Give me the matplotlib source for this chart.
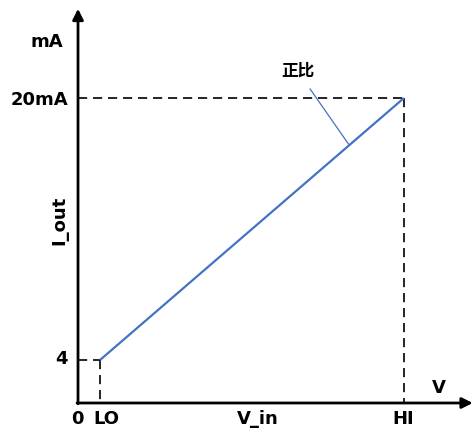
import matplotlib
matplotlib.use("Agg")
import matplotlib.pyplot as plt
import numpy as np

# ---- data (schematic) ----
v_points = [6.75, 100.0]      # LO, HI positions on the V_in axis
i_points = [4.0, 20.0]        # output current (mA)
x_tick_labels = ["0", "LO", "V_in", "HI"]
y_tick_labels = ["4", "20mA"]
annotation_text = "正比"

plt.rcParams['font.family'] = ['DejaVu Sans']

fig = plt.figure(figsize=(4.73, 4.29), dpi=100)
ax = fig.add_axes([0, 0, 1, 1])
ax.set_xlim(-23.93, 121.17)
ax.set_ylim(-0.214, 25.985)
ax.axis('off')

x0 = 0.0
y0 = 1.374
v_lo, v_hi = v_points
i_lo, i_hi = i_points

# axes arrows
arrow_kw = dict(arrowstyle='-|>', lw=2.0, color='black', mutation_scale=16,
                shrinkA=0, shrinkB=0)
ax.annotate('', xy=(x0, 25.45), xytext=(x0, y0 - 0.05), arrowprops=arrow_kw)
ax.annotate('', xy=(121.1, y0), xytext=(x0 - 0.3, y0), arrowprops=arrow_kw)

# dashed guides
dash_kw = dict(color='black', lw=1.2, linestyle=(0, (5.5, 3.5)))
ax.plot([x0, v_hi], [i_hi, i_hi], **dash_kw)
ax.plot([v_hi, v_hi], [i_hi, y0], **dash_kw)
ax.plot([x0, v_lo], [i_lo, i_lo], **dash_kw)
ax.plot([v_lo, v_lo], [i_lo, y0], **dash_kw)

# proportional line
blue = '#4472C4'
ax.plot(v_points, i_points, color=blue, lw=1.6, solid_capstyle='butt')

# leader line to annotation
t = 0.82
px = v_lo + t * (v_hi - v_lo)
py = i_lo + t * (i_hi - i_lo)
ax.plot([71.2, px], [20.55, py], color=blue, lw=0.9)
ax.text(67.5, 21.7, annotation_text, fontsize=12, fontweight='bold',
        family=['Noto Sans CJK SC', 'DejaVu Sans'], ha='center', va='center')

# labels
fs = 13
yb = 0.397
ax.text(-4.6, 23.45, "mA", fontsize=fs, fontweight='bold', ha='right', va='center')
ax.text(-3.07, i_hi - 0.15, y_tick_labels[1], fontsize=fs, fontweight='bold', ha='right', va='center')
ax.text(-3.07, i_lo + 0.05, y_tick_labels[0], fontsize=fs, fontweight='bold', ha='right', va='center')
ax.text(x0 - 0.3, yb, x_tick_labels[0], fontsize=fs, fontweight='bold', ha='center', va='center')
ax.text(v_lo + 1.9, yb, x_tick_labels[1], fontsize=fs, fontweight='bold', ha='center', va='center')
ax.text(55.2, yb, x_tick_labels[2], fontsize=fs, fontweight='bold', ha='center', va='center')
ax.text(v_hi - 0.3, yb, x_tick_labels[3], fontsize=fs, fontweight='bold', ha='center', va='center')
ax.text(110.7, 2.29, "V", fontsize=fs, fontweight='bold', ha='center', va='center')
ax.text(-5.8, 12.55, "I_out", fontsize=fs, fontweight='bold', ha='center', va='center', rotation=90)

fig.savefig("out.png", dpi=100)
